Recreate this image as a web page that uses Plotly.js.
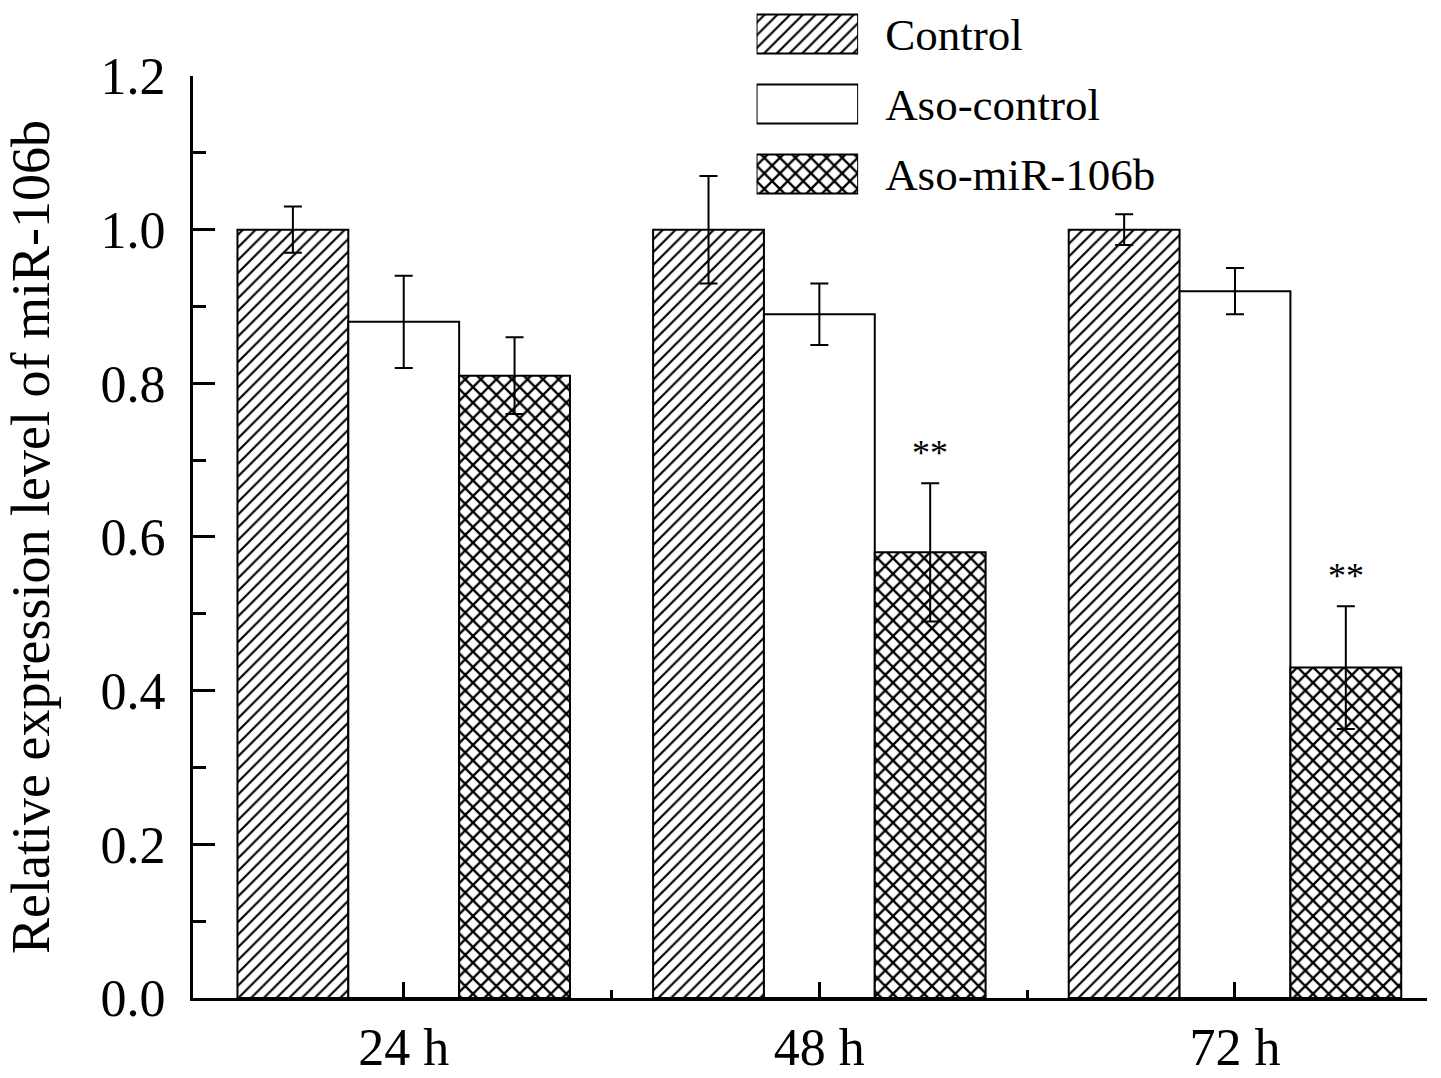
<!DOCTYPE html>
<html>
<head>
<meta charset="utf-8">
<script src="https://cdn.plot.ly/plotly-3.0.1.min.js"></script>
<style>
  html, body { margin: 0; padding: 0; background: #fff; }
  #chart { width: 1441px; height: 1078px; }
</style>
</head>
<body>
<div id="chart"></div>
<script>
/* miR-106b relative expression, grouped bars with SD error bars */

const timepoints = ['24 h', '48 h', '72 h'];
const seriesNames = ['Control', 'Aso-control', 'Aso-miR-106b'];

const controlVals = [1.00, 1.00, 1.00];
const controlErr  = [0.03, 0.07, 0.02];
const asoCtrlVals = [0.88, 0.89, 0.92];
const asoCtrlErr  = [0.06, 0.04, 0.03];
const asoMirVals  = [0.81, 0.58, 0.43];
const asoMirErr   = [0.05, 0.09, 0.08];
const asoMirSig   = ['', '**', '**'];

const FONT = 'Liberation Serif, Times New Roman, serif';
const patterns = ['/', '', 'x'];
const patternSize = [9, 8, 11];
const patternSolidity = [0.24, 0.3, 0.38];

const xIdx = timepoints.map((_, i) => i);
const BAR_W = 0.8 / 3;

function barTrace(name, vals, errs, k) {
  return {
    type: 'bar',
    name: name,
    x: xIdx,
    y: vals,
    showlegend: false,
    marker: {
      color: 'white',
      line: { color: 'black', width: 2 },
      pattern: {
        shape: patterns[k],
        fgcolor: 'black',
        bgcolor: 'white',
        fillmode: 'replace',
        size: patternSize[k],
        solidity: patternSolidity[k],
      },
    },
    error_y: { type: 'data', array: errs, visible: true, color: 'black', thickness: 2, width: 9 },
  };
}

const traces = [
  barTrace(seriesNames[0], controlVals, controlErr, 0),
  barTrace(seriesNames[1], asoCtrlVals, asoCtrlErr, 1),
  barTrace(seriesNames[2], asoMirVals, asoMirErr, 2),
];

// key drawn as a small horizontal bar plot in the top corner
traces.push({
  type: 'bar',
  orientation: 'h',
  y: seriesNames,
  x: seriesNames.map(() => 1),
  width: 0.56,
  xaxis: 'x2',
  yaxis: 'y2',
  showlegend: false,
  hoverinfo: 'skip',
  marker: {
    color: 'white',
    line: { color: 'black', width: 2 },
    pattern: {
      shape: patterns,
      fgcolor: 'black',
      bgcolor: 'white',
      fillmode: 'replace',
      size: patternSize,
      solidity: patternSolidity,
    },
  },
});

// significance marks above error bars
const annotations = asoMirSig.map((s, i) => ({
  x: i + BAR_W,
  y: asoMirVals[i] + asoMirErr[i],
  xref: 'x', yref: 'y',
  text: s,
  showarrow: false,
  yanchor: 'bottom',
  yshift: 8,
  font: { family: FONT, size: 36, color: 'black' },
})).filter(a => a.text);

const layout = {
  width: 1441,
  height: 1078,
  paper_bgcolor: 'white',
  plot_bgcolor: 'white',
  font: { family: FONT, color: 'black', size: 52 },
  margin: { t: 10, r: 14, b: 80, l: 193 },
  barmode: 'group',
  bargap: 0.2,
  bargroupgap: 0,
  xaxis: {
    domain: [0, 1],
    range: [-0.507, 2.462],
    tickmode: 'array',
    tickvals: xIdx,
    ticktext: timepoints,
    tickfont: { family: FONT, size: 52, color: 'black' },
    ticks: 'inside',
    ticklen: 16,
    tickwidth: 3,
    tickcolor: 'black',
    showline: true,
    linecolor: 'black',
    linewidth: 3,
    showgrid: false,
    zeroline: false,
    ticklabelstandoff: 2,
    minor: { tickmode: 'array', tickvals: [0.5, 1.5, 2.46], ticks: 'inside', ticklen: 8, tickwidth: 3, tickcolor: 'black' },
  },
  yaxis: {
    domain: [0, 0.9332],
    range: [0, 1.2],
    tickmode: 'linear',
    tick0: 0,
    dtick: 0.2,
    tickformat: '.1f',
    tickfont: { family: FONT, size: 52, color: 'black' },
    ticks: 'inside',
    ticklen: 22,
    tickwidth: 3,
    tickcolor: 'black',
    showline: true,
    linecolor: 'black',
    linewidth: 3,
    showgrid: false,
    zeroline: false,
    ticklabelstandoff: 14,
    minor: { dtick: 0.1, ticks: 'inside', ticklen: 13, tickwidth: 3, tickcolor: 'black' },
    title: { text: 'Relative expression level of miR-106b', font: { family: FONT, size: 54 }, standoff: 34 },
  },
  xaxis2: {
    domain: [0.4567, 0.539],
    range: [0, 1],
    anchor: 'y2',
    visible: false,
    fixedrange: true,
  },
  yaxis2: {
    domain: [0.7976, 1.0],
    range: [2.514, -0.343],
    anchor: 'x2',
    side: 'right',
    showline: false,
    showgrid: false,
    zeroline: false,
    ticks: '',
    ticklabelstandoff: 26,
    tickfont: { family: FONT, size: 45, color: 'black' },
    fixedrange: true,
  },
  annotations: annotations,
};

Plotly.newPlot('chart', traces, layout, { displayModeBar: false, staticPlot: true });
</script>
</body>
</html>
